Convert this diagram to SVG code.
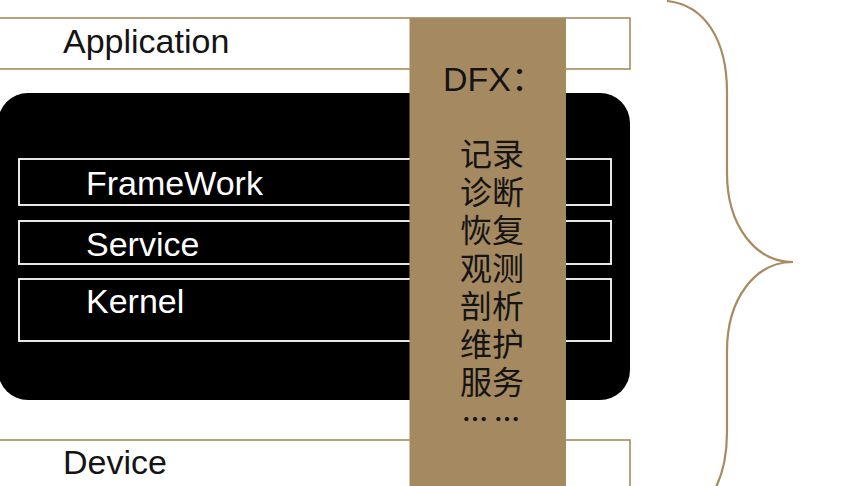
<svg xmlns="http://www.w3.org/2000/svg" width="864" height="486" viewBox="0 0 864 486">
<style>
.en{font-family:"Liberation Sans","Noto Sans CJK SC",sans-serif;font-size:34px}
.zh{font-family:"Noto Sans CJK SC","Noto Sans CJK JP",sans-serif;font-size:32px;fill:#141414}
.dots{font-family:"Noto Sans CJK SC","Noto Sans CJK JP",sans-serif;font-size:26px;font-weight:bold;fill:#141414}
.tan{fill:#ffffff;stroke:#a88b5e;stroke-width:1.6}
.inner{fill:none;stroke:#ffffff;stroke-width:1.8}
</style>
<rect width="864" height="486" fill="#ffffff"/>
<g id="application">
<rect class="tan" x="-2" y="18" width="632" height="51"/>
<text class="en" x="63" y="53" fill="#141414">Application</text>
</g>
<g id="system">
<rect x="-2" y="93" width="632" height="307" rx="30" ry="30" fill="#000000"/>
</g>
<g id="framework">
<rect class="inner" x="19" y="159" width="592" height="46"/>
<text class="en" x="86" y="195" fill="#ffffff">FrameWork</text>
</g>
<g id="service">
<rect class="inner" x="19" y="221" width="592" height="43"/>
<text class="en" x="86" y="256" fill="#ffffff">Service</text>
</g>
<g id="kernel">
<rect class="inner" x="19" y="279" width="592" height="62"/>
<text class="en" x="86" y="313" fill="#ffffff">Kernel</text>
</g>
<g id="device">
<rect class="tan" x="-2" y="440" width="632" height="60"/>
<text class="en" x="63" y="474" fill="#141414">Device</text>
</g>
<g id="dfx">
<rect x="409.5" y="18" width="156.5" height="470" fill="#a58a61"/>
<text class="en" x="443" y="91" fill="#141414">DFX：</text>
<text class="zh" x="460" y="166">记录</text>
<text class="zh" x="460" y="204">诊断</text>
<text class="zh" x="460" y="242">恢复</text>
<text class="zh" x="460" y="280">观测</text>
<text class="zh" x="460" y="318">剖析</text>
<text class="zh" x="460" y="356">维护</text>
<text class="zh" x="460" y="394">服务</text>
<text class="dots" x="462" y="429">…</text>
<text class="dots" x="494" y="429">…</text>
</g>
<g id="brace">
<path d="M667,1 C705,5 727,40 727,92 L727,173 C727,225 755,262 793,262 C755,262 727,299 727,351 L727,432 C727,484 705,519 667,523" fill="none" stroke="#a88b5e" stroke-width="2.2"/>
</g>
</svg>
